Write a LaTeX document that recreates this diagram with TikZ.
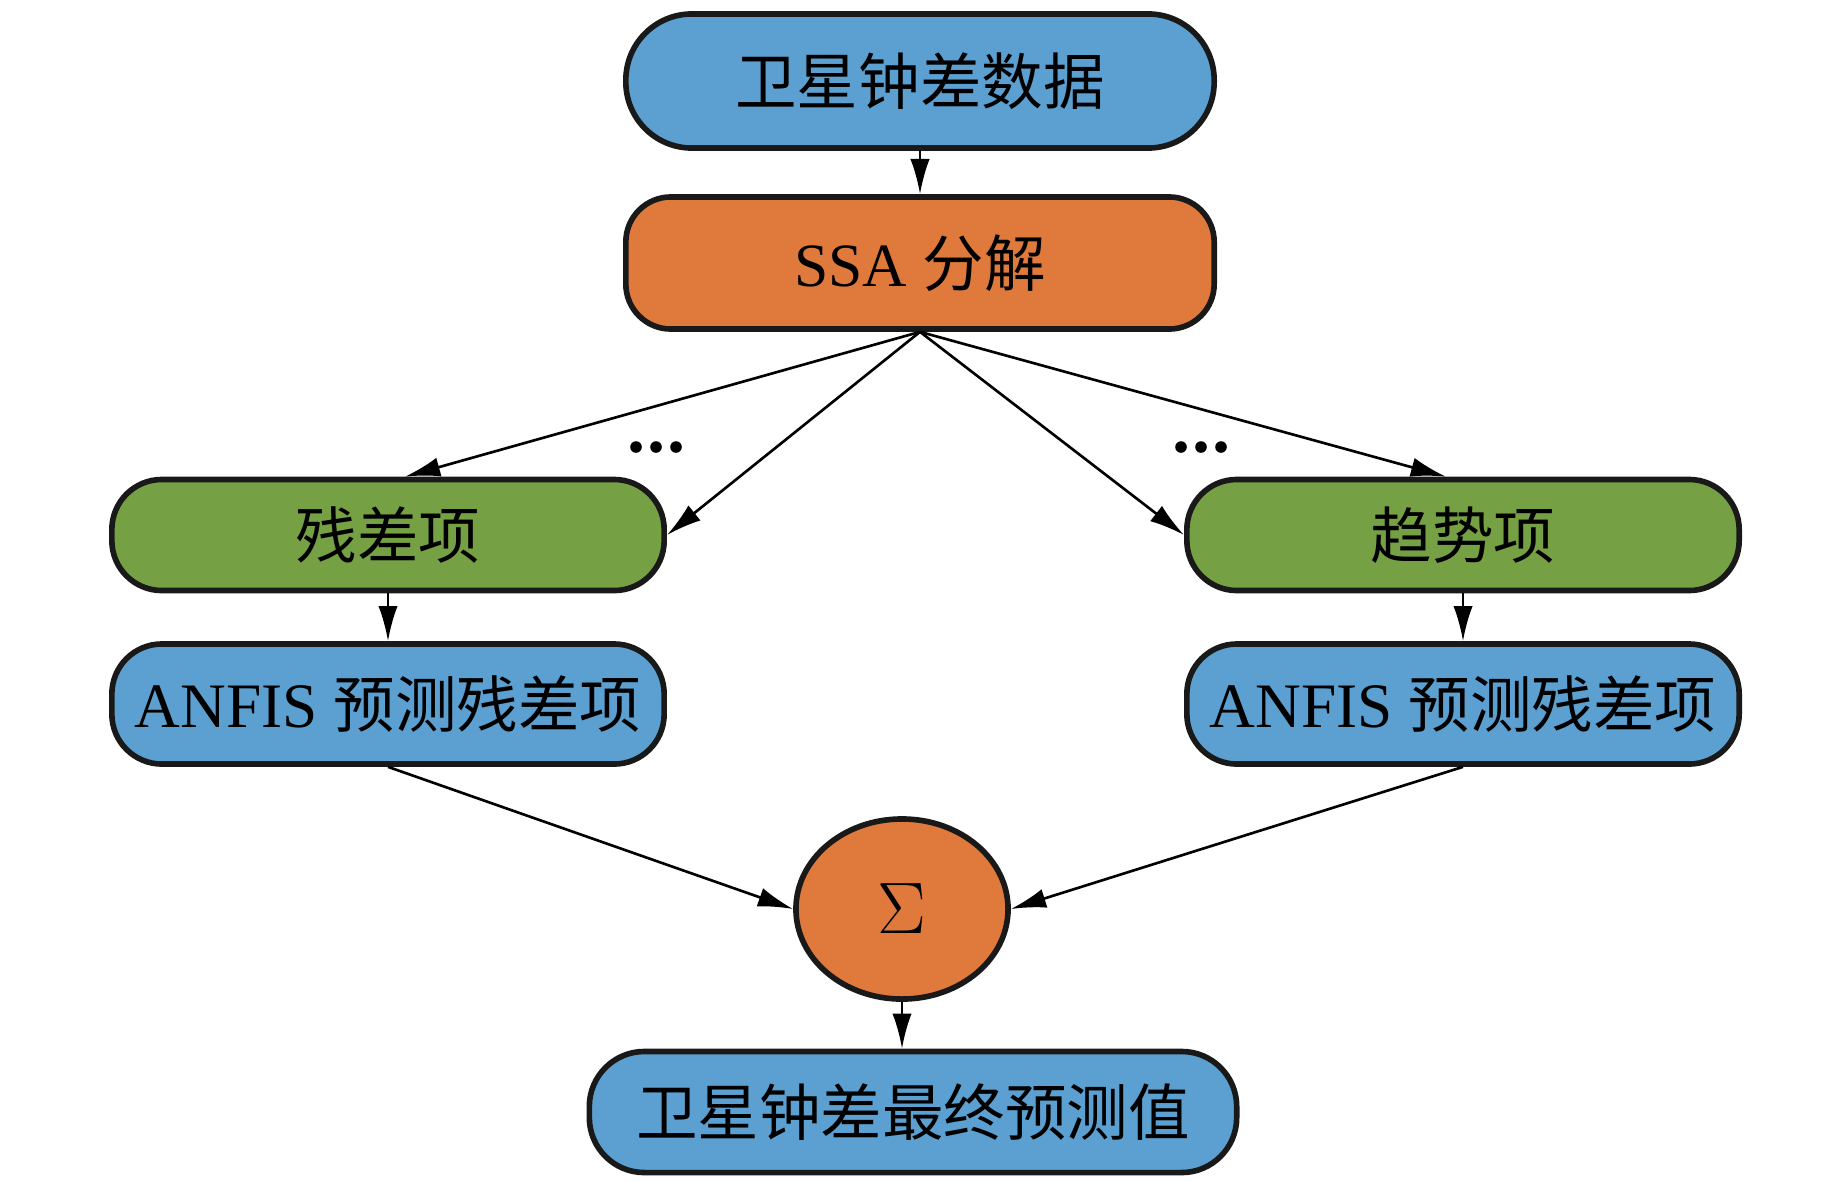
\documentclass[tikz,border=0pt]{standalone}
\usepackage{fontspec}
\setmainfont{Liberation Serif}
\newfontfamily\cjk{Noto Sans CJK SC}
\usetikzlibrary{arrows.meta,shapes.geometric}
\definecolor{nblue}{RGB}{91,160,208}
\definecolor{norange}{RGB}{224,122,60}
\definecolor{ngreen}{RGB}{118,160,68}
\tikzset{
  box/.style={draw=black!90, line width=1.6pt, minimum width=5.52cm, minimum height=1.11cm,
    rounded corners=0.5cm, font=\fontsize{17.5}{20}\selectfont, text=black, inner sep=0pt},
  conn/.style={line width=0.75pt, -{Latex[length=10pt,width=5.5pt]}},
  dotmark/.style={circle, fill=black, inner sep=0pt, minimum size=3.3pt},
}
\begin{document}
\begin{tikzpicture}[x=0.01cm,y=-0.01cm]
\useasboundingbox (0,0) rectangle (1843,1181);
\node[box, fill=nblue, minimum width=5.88cm, minimum height=1.34cm, rounded corners=0.66cm] (top) at (920,81) {\cjk 卫星钟差数据};
\node[box, fill=norange, minimum width=5.88cm, minimum height=1.32cm, rounded corners=0.45cm] (ssa) at (920,263) {SSA \cjk 分解};
\node[box, fill=ngreen] (gl) at (388,535) {\cjk 残差项};
\node[box, fill=ngreen] (gr) at (1463,535) {\cjk 趋势项};
\node[box, fill=nblue, minimum height=1.2cm] (al) at (388,704) {\fontsize{18}{20}\selectfont ANFIS {\cjk\fontsize{17.5}{20}\selectfont 预测残差项}};
\node[box, fill=nblue, minimum height=1.2cm] (ar) at (1463,704) {\fontsize{18}{20}\selectfont ANFIS {\cjk\fontsize{17.5}{20}\selectfont 预测残差项}};
\node[ellipse, draw=black!90, line width=1.6pt, fill=norange, minimum width=2.12cm, minimum height=1.8cm, inner sep=0pt, font=\fontsize{22}{24}\selectfont] (sig) at (902,909) {$\Sigma$};
\node[box, fill=nblue, minimum width=6.47cm, minimum height=1.21cm, rounded corners=0.55cm] (bot) at (913,1112) {\cjk 卫星钟差最终预测值};
\draw[conn] (top) -- (ssa);
\draw[conn] (ssa.south) -- ([xshift=0.17cm]gl.north);
\draw[conn] (ssa.south) -- (gl.east);
\draw[conn] (ssa.south) -- (gr.west);
\draw[conn] (ssa.south) -- ([xshift=-0.17cm]gr.north);
\draw[conn] (gl) -- (al);
\draw[conn] (gr) -- (ar);
\draw[conn] (al.south) -- (sig.west);
\draw[conn] (ar.south) -- (sig.east);
\draw[conn] (sig.south) -- (sig.south |- bot.north);
\node[dotmark] (d1) at (636,447) {};
\node[dotmark] (d2) at (656,447) {};
\node[dotmark] (d3) at (676,447) {};
\node[dotmark] (d4) at (1181,447) {};
\node[dotmark] (d5) at (1201,447) {};
\node[dotmark] (d6) at (1221,447) {};
\end{tikzpicture}
\end{document}
